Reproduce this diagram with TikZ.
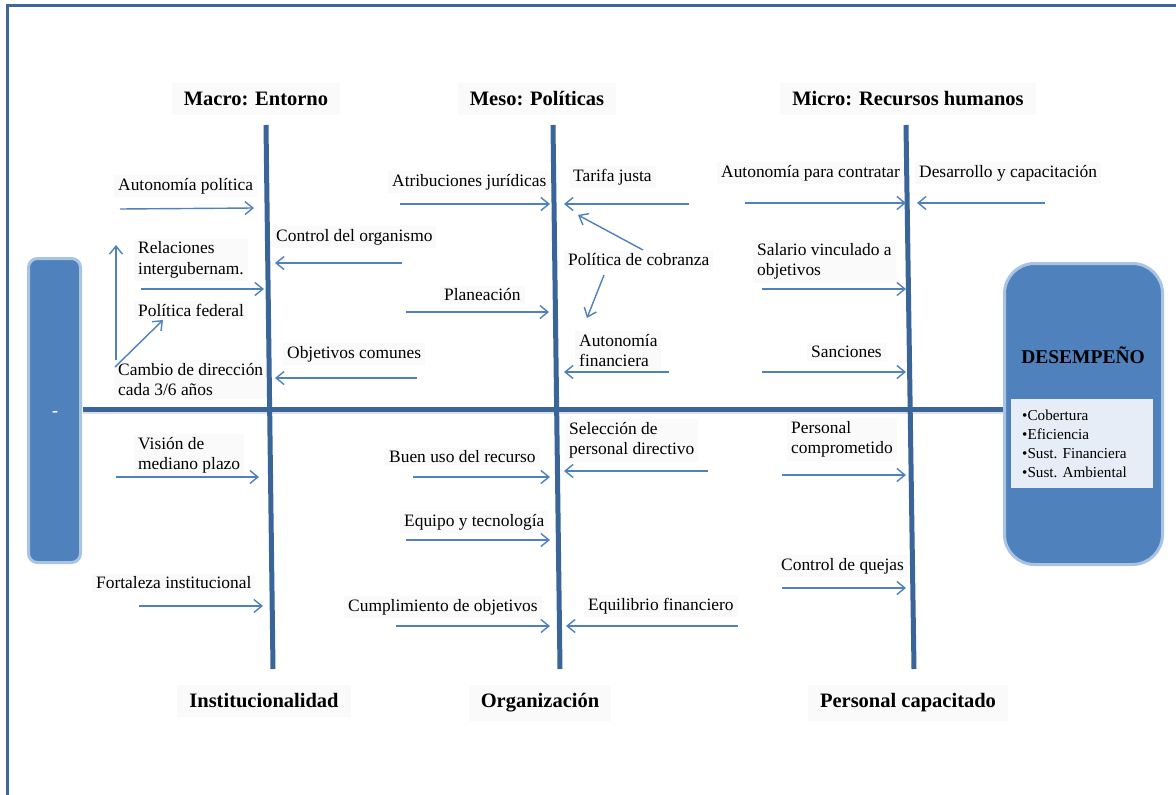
\documentclass[tikz,border=0pt]{standalone}
\usepackage{fontspec}
\setmainfont{Liberation Serif}
\usetikzlibrary{arrows.meta}
\definecolor{arrblue}{HTML}{4F81BD}
\definecolor{bonecol}{HTML}{3A6598}
\definecolor{framecol}{HTML}{41679A}
\definecolor{boxfill}{HTML}{4F81BD}
\definecolor{boxedge}{HTML}{A9C3E3}
\definecolor{innerfill}{HTML}{E6EDF6}
\definecolor{lblbg}{HTML}{FAFAFA}
\begin{document}
\begin{tikzpicture}[x=1pt,y=-1pt,
 arr/.style={draw=arrblue,line width=1.4pt,-{Straight Barb[length=8pt,width=13pt,line width=1.4pt]}},
 bone/.style={draw=bonecol,line width=5pt},
 lbl/.style={font=\fontsize{17.4}{20.5}\selectfont,align=left,anchor=west,inner xsep=4pt,inner ysep=3pt,fill=lblbg},
 head/.style={font=\fontsize{20.5}{24}\selectfont\bfseries,fill=lblbg,inner xsep=12pt,inner ysep=9pt},
 bullets/.style={font=\fontsize{15.2}{19}\selectfont,align=left,anchor=west,inner sep=0pt}]
\useasboundingbox (0,0) rectangle (1176,795);
\fill[white] (0,0) rectangle (1176,795);
% frame
\coordinate (fr1) at (7,800); \coordinate (fr2) at (7,5); \coordinate (fr3) at (1180,5);
\draw[framecol,line width=3pt] (fr1) -- (fr2) -- (fr3);
% headings
\node[head] (hMacro) at (256,99) {Macro: Entorno};
\node[head] (hMeso) at (537,99) {Meso: Políticas};
\node[head] (hMicro) at (908,99) {Micro: Recursos humanos};
\node[head] (hInst) at (264,701) {Institucionalidad};
\node[head] (hOrg) at (540,703) {Organización};
\node[head] (hPers) at (908,703) {Personal capacitado};
% labels macro
\node[lbl] (lmA) at (114,186) {Autonomía política};
\node[lbl] (lmB) at (134,260) {Relaciones\\intergubernam.};
\node[lbl] (lmC) at (134,310) {Política federal};
\node[lbl] (lmD) at (114,379.5) {Cambio de dirección\\cada 3/6 años};
\node[lbl] (lmE) at (272,237) {Control del organismo};
\node[lbl] (lmF) at (283,354) {Objetivos comunes};
\node[lbl] (lmG) at (134,455.5) {Visión de\\mediano plazo};
\node[lbl] (lmH) at (92,583) {Fortaleza institucional};
% labels meso
\node[lbl] (leA) at (388,182) {Atribuciones jurídicas};
\node[lbl] (leB) at (440,295) {Planeación};
\node[lbl] (leC) at (569,177) {Tarifa justa};
\node[lbl] (leD) at (564,260) {Política de cobranza};
\node[lbl] (leE) at (575,350.5) {Autonomía\\financiera};
\node[lbl] (leF) at (565,440.5) {Selección de\\personal directivo};
\node[lbl] (leG) at (385,457) {Buen uso del recurso};
\node[lbl] (leH) at (400,522) {Equipo y tecnología};
\node[lbl] (leI) at (344,607) {Cumplimiento de objetivos};
\node[lbl] (leJ) at (584,606) {Equilibrio financiero};
% labels micro
\node[lbl] (liA) at (717,173) {Autonomía para contratar};
\node[lbl] (liB) at (915,173) {Desarrollo y capacitación};
\node[lbl] (liC) at (753,261.5) {Salario vinculado a\\objetivos};
\node[lbl] (liD) at (807,352) {Sanciones};
\node[lbl] (liE) at (787,439.5) {Personal\\comprometido};
\node[lbl] (liF) at (777,566) {Control de quejas};
% left box
\node[draw=boxedge,line width=3pt,fill=boxfill,rounded corners=9pt,minimum width=52pt,minimum height=304pt,inner sep=0pt] (lbox) at (54.5,410.5) {};
\node[text=white,font=\fontsize{18}{20}\selectfont\bfseries] (minus) at (55,414) {-};
% right box
\node[draw=boxedge,line width=3pt,fill=boxfill,rounded corners=30pt,minimum width=158pt,minimum height=301pt,inner sep=0pt] (rbox) at (1083.5,414) {};
\node[font=\fontsize{19.5}{22}\selectfont\bfseries,inner sep=0pt] (des) at (1083,355) {DESEMPEÑO};
\node[fill=innerfill,minimum width=142pt,minimum height=89pt,inner sep=0pt] (inner) at (1082,443.5) {};
\node[bullets] (bl) at (1022,443.5) {•Cobertura\\•Eficiencia\\•Sust. Financiera\\•Sust. Ambiental};
% spine
\coordinate (sp1) at (83,412); \coordinate (sp2) at (1003,412);
\draw[gray!25,line width=3pt] (sp1) -- (sp2);
\coordinate (sp3) at (83,409.5); \coordinate (sp4) at (1003,409.5);
\draw[bonecol,line width=4.5pt] (sp3) -- (sp4);
% bones
\coordinate (b1t) at (266,125); \coordinate (b1b) at (273,669);
\coordinate (b2t) at (553,125); \coordinate (b2b) at (560,669);
\coordinate (b3t) at (906,125); \coordinate (b3b) at (914,669);
\draw[bone] (b1t) -- (b1b);
\draw[bone] (b2t) -- (b2b);
\draw[bone] (b3t) -- (b3b);
% arrows
\foreach \n/\sx/\sy/\ex/\ey in {
 1/120/209/254/208, 2/141/289/264/289, 3/402/263/275/263, 4/417/378/275/378,
 5/116/360/116/245, 6/115/367/163/320, 7/116/477/259/477, 8/139/606/263/606,
 9/400/204/550/204, 10/406/312/549/312, 11/689/204/564/204, 12/643/250/578/215,
 13/604/275/587/318, 14/669/372/564/372, 15/708/471/564/471, 16/413/477/550/477,
 17/406/540/550/540, 18/396/626/550/626, 19/738/626/566/626,
 20/745/203/906/203, 21/1045/203/917/203, 22/762/289/906/289, 23/762/372/906/372,
 24/782/475/906/475, 25/782/588/906/588}{
 \coordinate (s\n) at (\sx,\sy);
 \coordinate (e\n) at (\ex,\ey);
 \draw[arr] (s\n) -- (e\n);
}
\end{tikzpicture}
\end{document}
